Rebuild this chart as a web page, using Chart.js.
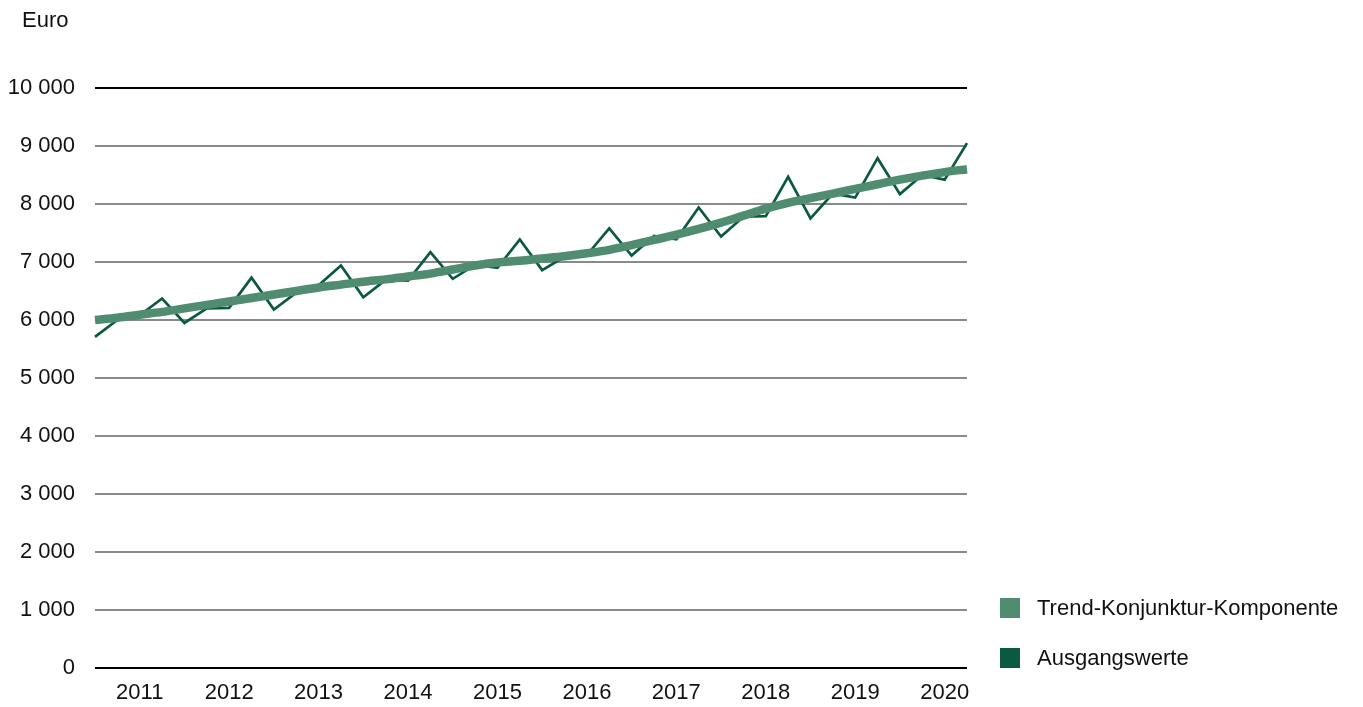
<!DOCTYPE html>
<html lang="de">
<head>
<meta charset="utf-8">
<script src="https://cdn.jsdelivr.net/npm/chart.js@4/dist/chart.umd.min.js"></script>
<style>
    html, body { margin: 0; padding: 0; background: #fff; }
    #wrap { position: relative; width: 1363px; height: 707px; font-family: 'Liberation Sans', Arial, sans-serif; color: #111; }
    #unit { position: absolute; left: 22px; top: 7px; font-size: 22px; }
    .leg { position: absolute; left: 1000px; font-size: 22px; height: 20px; line-height: 20px; white-space: nowrap; }
    .leg span { display: inline-block; width: 20px; height: 20px; vertical-align: top; margin-right: 17px; }
</style>
</head>
<body>
<div id="wrap">
    <canvas id="chart" width="1363" height="707"></canvas>
    <div id="unit">Euro</div>
    <div class="leg" style="top:598px"><span style="background:#4f8c70"></span>Trend-Konjunktur-Komponente</div>
    <div class="leg" style="top:648px"><span style="background:#0b5a40"></span>Ausgangswerte</div>
</div>
<script>
// Daten (Quartalswerte 2011-2020)
const years = ['2011', '2012', '2013', '2014', '2015', '2016', '2017', '2018', '2019', '2020'];
const quarters = ['Q1', 'Q2', 'Q3', 'Q4'];

const ausgangswerte = [
    5710, 6000, 6080, 6370,
    5950, 6200, 6210, 6730,
    6180, 6470, 6600, 6940,
    6390, 6690, 6680, 7170,
    6710, 6950, 6900, 7390,
    6860, 7090, 7120, 7580,
    7110, 7450, 7390, 7940,
    7440, 7780, 7790, 8470,
    7750, 8180, 8110, 8790,
    8170, 8500, 8420, 9050
];

const trend = [
    6000, 6040, 6090, 6140,
    6200, 6260, 6320, 6380,
    6440, 6500, 6560, 6610,
    6660, 6700, 6750, 6800,
    6870, 6940, 6990, 7020,
    7060, 7100, 7150, 7210,
    7290, 7380, 7470, 7570,
    7680, 7800, 7920, 8020,
    8100, 8180, 8260, 8340,
    8420, 8490, 8550, 8600
];

const yTicks = [0, 1000, 2000, 3000, 4000, 5000, 6000, 7000, 8000, 9000, 10000];

const labels = [];
years.forEach(function(y) {
    quarters.forEach(function(q) { labels.push(y + ' ' + q); });
});

function fmt(v) {
    return String(v).replace(/\B(?=(\d{3})+(?!\d))/g, ' ');
}

Chart.defaults.font.family = "'Liberation Sans', Arial, sans-serif";
Chart.defaults.font.size = 22;
Chart.defaults.color = '#111';

new Chart(document.getElementById('chart').getContext('2d'), {
    type: 'line',
    data: {
        labels: labels,
        datasets: [{
            label: 'Trend-Konjunktur-Komponente',
            data: trend,
            borderColor: '#4f8c70',
            borderWidth: 8.5,
            tension: 0.4,
            cubicInterpolationMode: 'monotone',
            pointRadius: 0,
            order: 0,
            clip: false
        }, {
            label: 'Ausgangswerte',
            data: ausgangswerte,
            borderColor: '#0b5a40',
            borderWidth: 2.7,
            tension: 0,
            pointRadius: 0,
            order: 1,
            clip: false
        }]
    },
    options: {
        responsive: false,
        animation: false,
        layout: { padding: { top: 88, right: 396, left: 0, bottom: 0 } },
        plugins: {
            legend: { display: false },
            tooltip: { enabled: false }
        },
        scales: {
            x: {
                offset: false,
                grid: { display: false, drawTicks: false },
                border: { display: false },
                ticks: {
                    autoSkip: false,
                    maxRotation: 0,
                    padding: 12,
                    callback: function(value, index) {
                        return index % 4 === 2 ? years[Math.floor(index / 4)] : '';
                    }
                },
                afterFit: function(s) { s.height = 39; }
            },
            y: {
                min: 0,
                max: 10000,
                afterBuildTicks: function(s) {
                    s.ticks = yTicks.map(function(v) { return { value: v }; });
                },
                grid: {
                    drawTicks: false,
                    lineWidth: 2,
                    color: function(ctx) {
                        const v = ctx.tick && ctx.tick.value;
                        return (v === 0 || v === 10000) ? '#000' : '#8a8a8a';
                    }
                },
                border: { display: false },
                ticks: {
                    padding: 20,
                    callback: function(value) { return fmt(value); }
                },
                afterFit: function(s) { s.width = 95; }
            }
        }
    }
});
</script>
</body>
</html>
